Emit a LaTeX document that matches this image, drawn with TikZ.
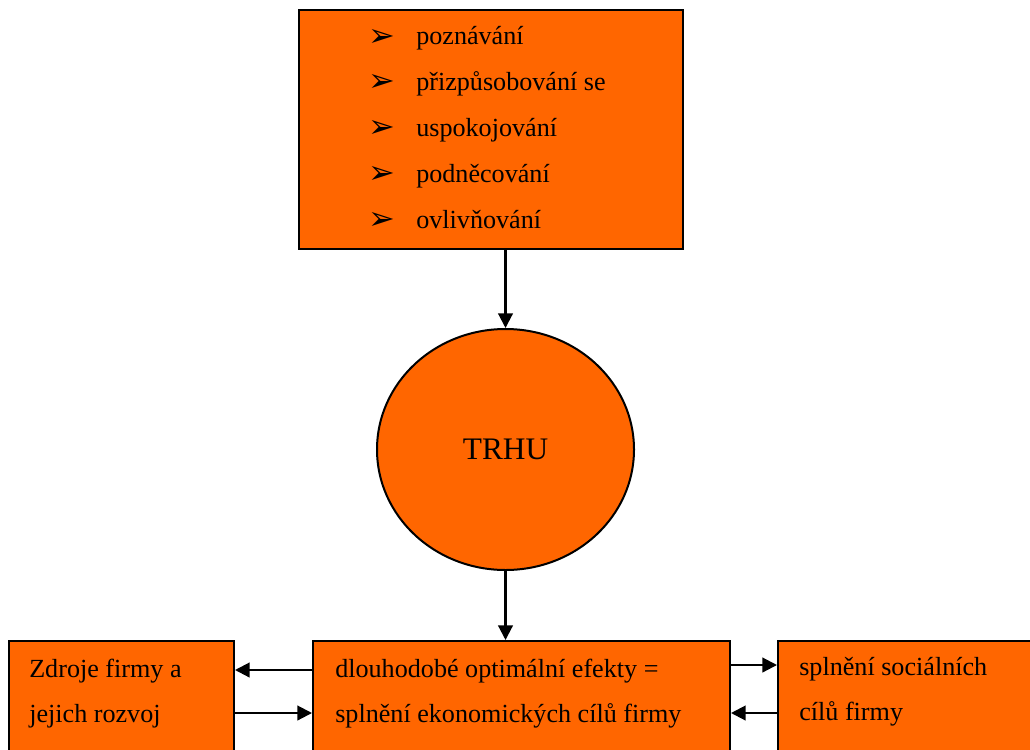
\documentclass[tikz,border=0pt]{standalone}
\usepackage{fontspec}
\setmainfont{Liberation Serif}
\newfontfamily\dejavu{DejaVu Sans}
\usetikzlibrary{shapes.geometric,arrows.meta}
\definecolor{fillorange}{HTML}{FF6600}
\tikzset{
  box/.style={draw=black, line width=1.5pt, fill=fillorange, rectangle, inner sep=0pt},
  oval/.style={draw=black, line width=1.5pt, fill=fillorange, ellipse, inner sep=0pt},
  arr/.style={line width=1.6pt, -{Triangle[length=11pt,width=11pt]}},
  txt/.style={anchor=base west, inner sep=0pt, font=\fontsize{19.6}{22}\selectfont},
  bul/.style={anchor=base west, inner sep=0pt, font=\dejavu\fontsize{24}{26}\selectfont},
}
\begin{document}
\begin{tikzpicture}[x=0.75pt, y=-0.75pt]
\useasboundingbox (0,0) rectangle (1030,749);
\clip (0,0) rectangle (1030,749);
% boxes
\node[box, minimum width=288pt, minimum height=179.25pt] (top) at (491,129.5) {};
\node[oval, minimum width=192.75pt, minimum height=180.75pt] (circ) at (505.5,449.5) {};
\node[box, minimum width=312.75pt, minimum height=96.75pt] (mid) at (521.5,705.5) {};
\node[box, minimum width=168.75pt, minimum height=96.75pt] (left) at (121.5,705.5) {};
\node[box, minimum width=196.5pt, minimum height=96.75pt] (right) at (909,705.5) {};
% top list
\foreach \yy/\t [count=\i] in {45/poznávání, 90.7/přizpůsobování se, 136.5/uspokojování, 182.5/podněcování, 228/ovlivňování}{
  \node[bul] (b\i) at (368,\yy+1) {➢};
  \node[txt] (t\i) at (416,\yy) {\t};
}
\node[font=\fontsize{23.5}{26}\selectfont] (trhu) at (circ) {TRHU};
% bottom texts
\node[txt] (l1) at (29,677) {Zdroje firmy a};
\node[txt] (l2) at (29,722) {jejich rozvoj};
\node[txt] (m1) at (335,677) {dlouhodobé optimální efekty =};
\node[txt] (m2) at (335,722) {splnění ekonomických cílů firmy};
\node[txt] (r1) at (799,675) {splnění sociálních};
\node[txt] (r2) at (799,720) {cílů firmy};
% connectors
\draw[arr] (top.south -| circ.north) -- (circ.north);
\draw[arr] (circ.south) -- (circ.south |- mid.north);
\coordinate (ya) at (0,670);
\coordinate (yb) at (0,713);
\coordinate (yc) at (0,665);
\draw[arr] (mid.west |- ya) -- (left.east |- ya);
\draw[arr] (left.east |- yb) -- (mid.west |- yb);
\draw[arr] (mid.east |- yc) -- (right.west |- yc);
\draw[arr] (right.west |- yb) -- (mid.east |- yb);
\end{tikzpicture}
\end{document}
